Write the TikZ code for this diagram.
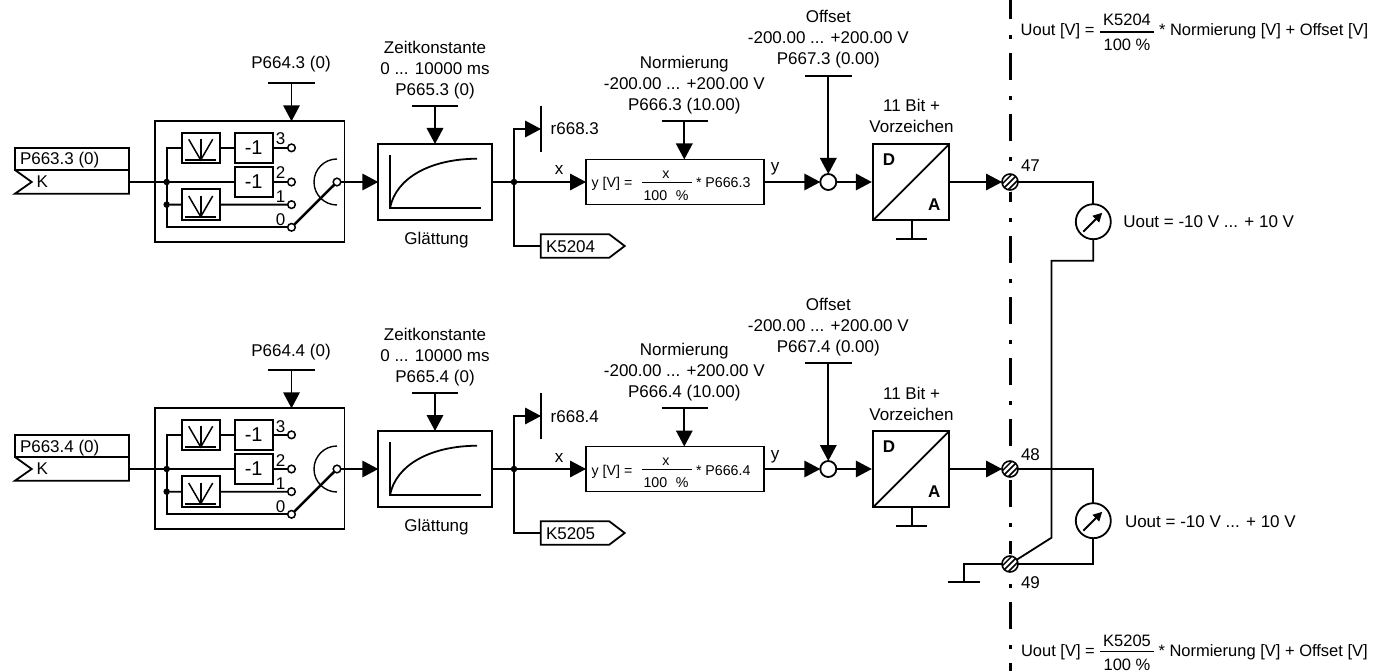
\documentclass[tikz,border=0pt]{standalone}
\usepackage{fontspec}
\setmainfont{Liberation Sans}
\usetikzlibrary{arrows.meta,fit,calc}
\tikzset{
  wire/.style={line width=1.8pt,line join=miter},
  arr/.style={wire,-{Triangle[length=16pt,width=16.5pt]}},
  blk/.style={draw,line width=1.8pt,inner sep=0pt,outer sep=0pt,fill=white},
  lbl/.style={inner sep=0pt,outer sep=0pt,font=\fontsize{17}{21}\selectfont},
  small/.style={inner sep=0pt,outer sep=0pt,font=\fontsize{14.2}{17}\selectfont},
  form/.style={inner sep=0pt,outer sep=0pt,font=\fontsize{16.5}{20}\selectfont},
  dotn/.style={circle,fill=black,inner sep=0pt,minimum size=6.5pt},
  contact/.style={circle,draw,fill=white,inner sep=0pt,outer sep=0pt,minimum size=7.6pt,line width=1.5pt},
  sumc/.style={circle,draw,fill=white,inner sep=0pt,outer sep=0pt,minimum size=16pt,line width=1.8pt},
  meter/.style={circle,draw,fill=white,inner sep=0pt,outer sep=0pt,minimum size=35pt,line width=1.8pt},
  termc/.style={circle,draw,fill=white,inner sep=0pt,outer sep=0pt,minimum size=16pt,line width=1.6pt,
    path picture={\foreach \d in {-4.2,0,4.2}{\draw[line width=1.5pt]
      ([xshift=-10pt,yshift={-10pt+\d*1.414pt}]path picture bounding box.center) -- ++(20pt,20pt);}}},
}
\newcommand\lab[6][lbl]{\node[#1,anchor=#3] (#2) at (#4,{#5+6}) {#6};}
\newcommand\bx[5]{\node[blk,fit={(#2,#3)(#4,#5)}] (#1) {};}
\newcommand\filt[2]{% box name, ydelta
  \draw[wire] (185.3,{160+#2}) -- (216,{160+#2});
  \draw[wire] (200.7,{139+#2}) -- (200.7,{160+#2});
  \draw[line width=1.5pt] (188.7,{139.3+#2}) -- (200.7,{160+#2}) -- (212.7,{139.3+#2});
}
\newcommand\chan[3]{% suffix, K number, output terminal
  % input
  \bx{p#1}{15}{147.7}{129}{170}
  \lab{pt#1}{base west}{20}{159}{P663.#1 (0)}
  \lab{kl#1}{base west}{36.7}{181.5}{K}
  \coordinate (in#1) at (129,182);
  \draw[wire] (p#1.south west) -- (31.7,182) -- (15,193.7) -- (129,193.7) -- (in#1);
  \draw[wire] (129,170) -- (in#1);
  % switch box
  \bx{sw#1}{155}{121.3}{344.5}{242.3}
  \bx{a#1}{181.7}{132.7}{220}{163}
  \bx{b#1}{181.7}{189.3}{220}{220}
  \bx{ma#1}{234.7}{132.7}{272.7}{163}
  \bx{mb#1}{234.7}{166.7}{272.7}{197.3}
  \node[lbl,font=\fontsize{20}{24}\selectfont] (mat#1) at (ma#1) {-1};
  \node[lbl,font=\fontsize{20}{24}\selectfont] (mbt#1) at (mb#1) {-1};
  \filt{a#1}{0}
  \filt{b#1}{56.7}
  \node[dotn] (d#1a) at (166.7,182) {};
  \node[dotn] (d#1b) at (166.7,204.65) {};
  \node[contact] (c#1x) at (291.5,147.85) {};
  \node[contact] (c#1y) at (291.5,182) {};
  \node[contact] (c#1z) at (291.5,204.65) {};
  \node[contact] (c#1w) at (291.5,227.3) {};
  \node[contact] (pole#1) at (337,182) {};
  \draw[wire] (in#1) -- (mb#1.west);
  \draw[wire] (a#1.west) -| (d#1a.center) -- (d#1b.center) |- (c#1w);
  \draw[wire] (d#1b) -- (b#1.west);
  \draw[wire] (a#1.east) -- (ma#1.west);
  \draw[wire] (ma#1.east) -- (c#1x);
  \draw[wire] (mb#1.east) -- (c#1y);
  \draw[wire] (b#1.east) -- (c#1z);
  \draw[line width=2.5pt] (c#1w) -- (pole#1);
  \draw[line width=1.4pt] (337,159) arc[start angle=90,end angle=270,radius=23pt];
  \lab{n3#1}{base}{280.7}{139}{3}
  \lab{n2#1}{base}{280.7}{173}{2}
  \lab{n1#1}{base}{280.7}{196.5}{1}
  \lab{n0#1}{base}{280.7}{219.3}{0}
  \lab{ps#1}{base}{291}{63}{P664.#1 (0)}
  \coordinate (sl#1) at (268,83); \coordinate (sr#1) at (315,83); \coordinate (sm#1) at (291.5,83);
  \draw[wire] (sl#1) -- (sr#1);
  \draw[arr] (sm#1) -- (sm#1 |- sw#1.north);
  % smoothing
  \bx{gl#1}{378.3}{144}{492.3}{220}
  \draw[arr] (pole#1) -- (gl#1.west);
  \draw[wire] (390,155) -- (390,208.3) -- (480.7,208.3);
  \draw[line width=1.8pt] (390,208) .. controls (396,178) and (430,159) .. (477,158.7);
  \lab{ze#1}{base}{435}{47.3}{Zeitkonstante}
  \lab{zr#1}{base}{435}{68.3}{0 ... 10000 ms}
  \lab{zp#1}{base}{435}{89.3}{P665.#1 (0)}
  \lab{gt#1}{base}{436.5}{238}{Glättung}
  \coordinate (zl#1) at (411.7,106.3); \coordinate (zrr#1) at (458.3,106.3); \coordinate (zm#1) at (435,106.3);
  \draw[wire] (zl#1) -- (zrr#1);
  \draw[arr] (zm#1) -- (zm#1 |- gl#1.north);
  % junction
  \node[dotn] (j#1) at (514,182) {};
  \draw[wire] (gl#1.east) -- (j#1);
  \coordinate (rt#1) at (541,106.3); \coordinate (rb#1) at (541,152); \coordinate (rm#1) at (541,129);
  \draw[wire] (rt#1) -- (rb#1);
  \draw[arr] (j#1.center) |- (rm#1);
  \lab{rl#1}{base west}{550.7}{129}{r668.#1}
  % K output
  \coordinate (ko#1) at (540.7,246);
  \draw[wire] (540.7,234.3) -- (609.3,234.3) -- (624.7,246) -- (609.3,257.7) -- (540.7,257.7) -- cycle;
  \lab{kt#1}{base west}{546}{246}{K#2}
  \draw[wire] (j#1.center) |- (ko#1);
  % formula
  \bx{f#1}{586}{159.5}{764.3}{204.5}
  \draw[arr] (j#1) -- (f#1.west);
  \lab{xl#1}{base}{559}{169}{x}
  \lab[small]{ft#1}{base west}{591.7}{182}{y [V] =}
  \lab[small]{fx#1}{base}{666}{172.5}{x}
  \lab[small]{fh#1}{base}{666}{194.5}{100 \,\,\%}
  \lab[small]{fp#1}{base west}{696}{182}{* P666.#1}
  \coordinate (fl#1) at (641.7,182.7); \coordinate (fr#1) at (691.7,182.7);
  \draw[line width=1.3pt] (fl#1) -- (fr#1);
  \lab{no#1}{base}{684.3}{62.3}{Normierung}
  \lab{nr#1}{base}{684.3}{83.3}{-200.00 ... +200.00 V}
  \lab{np#1}{base}{684.3}{104.3}{P666.#1 (10.00)}
  \coordinate (nl#1) at (661.7,121.3); \coordinate (nrr#1) at (708,121.3); \coordinate (nm#1) at (684.3,121.3);
  \draw[wire] (nl#1) -- (nrr#1);
  \draw[arr] (nm#1) -- (nm#1 |- f#1.north);
  % summation
  \node[sumc] (s#1) at (828.3,182) {};
  \draw[arr] (f#1.east) -- (s#1.west);
  \lab{yl#1}{base}{775}{166}{y}
  \lab{of#1}{base}{828.3}{17}{Offset}
  \lab{or#1}{base}{828.3}{38}{-200.00 ... +200.00 V}
  \lab{op#1}{base}{828.3}{59}{P667.#1 (0.00)}
  \coordinate (ol#1) at (805,76); \coordinate (orr#1) at (851.7,76); \coordinate (om#1) at (828.3,76);
  \draw[wire] (ol#1) -- (orr#1);
  \draw[arr] (om#1) -- (s#1.north);
  % D/A
  \bx{da#1}{873.3}{144}{949.3}{220}
  \draw[arr,shorten >=1.5pt] (s#1.east) -- (da#1.west);
  \draw[wire] (da#1.south west) -- (da#1.north east);
  \node[lbl,font=\fontsize{17}{21}\bfseries\selectfont,anchor=base] (dd#1) at (889,165.7) {D};
  \node[lbl,font=\fontsize{17}{21}\bfseries\selectfont,anchor=base] (aa#1) at (934.3,210.3) {A};
  \lab{bi#1}{base}{911.5}{106}{11 Bit +}
  \lab{vz#1}{base}{911.5}{127}{Vorzeichen}
  \coordinate (gm#1) at (911.7,238.7); \coordinate (gl2#1) at (896,238.7); \coordinate (gr#1) at (927,238.7);
  \draw[wire] (da#1.south -| gm#1) -- (gm#1);
  \draw[wire] (gl2#1) -- (gr#1);
  \draw[arr] (da#1.east) -- (#3.west);
}
\begin{document}
\begin{tikzpicture}[x=1pt,y=-1pt]
\useasboundingbox (0,0) rectangle (1376,671);
% separation line
\coordinate (st) at (1010,-8); \coordinate (en) at (1010,671);
\draw[line width=3pt,dash pattern=on 27pt off 16pt on 4pt off 14pt] (st) -- (en);
% terminals
\fill[white] (1010,182) circle[radius=10pt];
\fill[white] (1010,469.3) circle[radius=10pt];
\fill[white] (1010,564) circle[radius=10pt];
\node[termc] (t47) at (1010,182) {};
\node[termc] (t48) at (1010,469) {};
\node[termc] (t49) at (1010,564) {};
\chan{3}{5204}{t47}
\begin{scope}[yshift=-287pt]
\chan{4}{5205}{t48}
\end{scope}
% right side
\lab{l47}{base west}{1021}{166}{47}
\lab{l48}{base west}{1021}{454}{48}
\lab{l49}{base west}{1021}{582}{49}
\node[meter] (m47) at (1093.3,221.7) {};
\node[meter] (m48) at (1093.3,520.7) {};
\coordinate (c1) at (1051.5,260.7);
\coordinate (c2) at (1051.5,537.7);
\coordinate (c3) at (964,582.3);
\coordinate (gn) at (948,582.3);
\coordinate (gp) at (980,582.3);
\draw[wire] (t47.east) -| (m47.north);
\draw[wire] (m47.south) |- (c1) -- (c2) -- (t49);
\draw[wire] (t48.east) -| (m48.north);
\draw[wire] (m48.south) |- (t49.east);
\draw[wire] (t49.west) -| (c3);
\draw[wire] (gn) -- (gp);
\draw[line width=1.9pt,-{Triangle[length=9pt,width=9pt]}] (1083.3,231.7) -- (1102.2,212.8);
\draw[line width=1.9pt,-{Triangle[length=9pt,width=9pt]}] (1083.3,530.7) -- (1102.2,511.8);
\lab{u47}{base west}{1123.3}{222}{Uout = -10 V ... + 10 V}
\lab{u48}{base west}{1125}{521}{Uout = -10 V ... + 10 V}
% formulas
\lab[form]{fa1}{base west}{1020.7}{30}{Uout [V] =}
\lab[form]{fa2}{base}{1127}{19.5}{K5204}
\lab[form]{fa3}{base}{1127}{45}{100 \%}
\lab[form]{fa4}{base west}{1159}{30}{* Normierung [V] + Offset [V]}
\coordinate (fal) at (1100,32); \coordinate (far) at (1154,32);
\draw[line width=1.3pt] (fal) -- (far);
\lab[form]{fb1}{base west}{1021}{650}{Uout [V] =}
\lab[form]{fb2}{base}{1127}{640}{K5205}
\lab[form]{fb3}{base}{1127}{664}{100 \%}
\lab[form]{fb4}{base west}{1158.5}{650}{* Normierung [V] + Offset [V]}
\coordinate (fbl) at (1100,651.7); \coordinate (fbr) at (1154,651.7);
\draw[line width=1.3pt] (fbl) -- (fbr);
\end{tikzpicture}
\end{document}
